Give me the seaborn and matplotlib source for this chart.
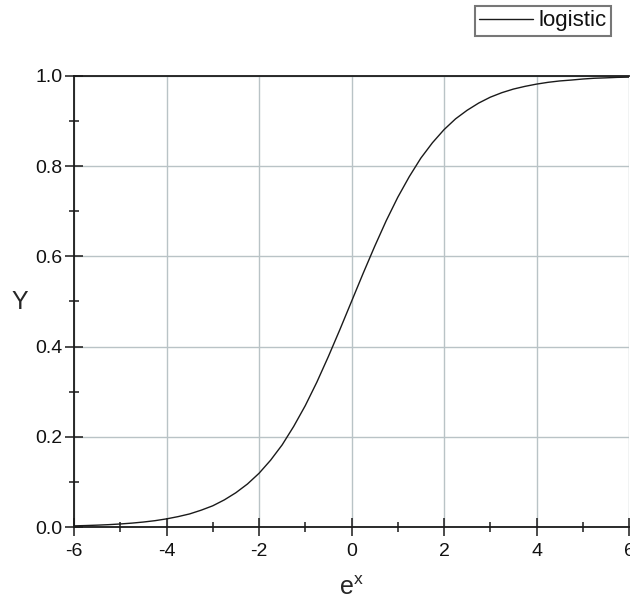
import matplotlib
matplotlib.use("Agg")
import matplotlib.pyplot as plt
import seaborn as sns
import pandas as pd
from matplotlib.ticker import MultipleLocator, FormatStrFormatter
from matplotlib.lines import Line2D

x_vals = [-6, -5.75, -5.5, -5.25, -5, -4.75, -4.5, -4.25, -4, -3.75, -3.5, -3.25,
          -3, -2.75, -2.5, -2.25, -2, -1.75, -1.5, -1.25, -1, -0.75, -0.5, -0.25,
          0, 0.25, 0.5, 0.75, 1, 1.25, 1.5, 1.75, 2, 2.25, 2.5, 2.75, 3, 3.25,
          3.5, 3.75, 4, 4.25, 4.5, 4.75, 5, 5.25, 5.5, 5.75, 6]
y_vals = [0.0025, 0.0032, 0.0041, 0.0052, 0.0067, 0.0086, 0.011, 0.014, 0.018, 0.023,
          0.029, 0.0373, 0.047, 0.0601, 0.076, 0.0953, 0.119, 0.148, 0.182, 0.223,
          0.269, 0.321, 0.378, 0.438, 0.5, 0.562, 0.622, 0.679, 0.731, 0.777, 0.818,
          0.852, 0.881, 0.905, 0.924, 0.940, 0.953, 0.963, 0.971, 0.977, 0.982, 0.986,
          0.989, 0.991, 0.9933, 0.995, 0.9959, 0.997, 0.9975]
series_name = "logistic"
x_label = "e$^{x}$"
y_label = "Y"

df = pd.DataFrame({"x": x_vals, "y": y_vals, "series": series_name})

sns.set_style("white")
plt.rcParams["font.family"] = ["Liberation Sans", "DejaVu Sans"]
plt.rcParams["mathtext.fontset"] = "custom"
plt.rcParams["mathtext.rm"] = "Liberation Sans"
plt.rcParams["mathtext.it"] = "Liberation Sans"
plt.rcParams["mathtext.default"] = "regular"
plt.rcParams["text.color"] = "#111111"

fig = plt.figure(figsize=(6.3, 6.01), dpi=100)
ax = fig.add_axes([74 / 630, 1 - 527 / 601, (629 - 74) / 630, (527 - 76) / 601])

sns.lineplot(data=df, x="x", y="y", hue="series", palette=["#1a1a1a"], linewidth=1.0,
             ax=ax, legend=False)

ax.set_xlim(-6, 6)
ax.set_ylim(0, 1.0)
ax.xaxis.set_major_locator(MultipleLocator(2))
ax.xaxis.set_minor_locator(MultipleLocator(1))
ax.yaxis.set_major_locator(MultipleLocator(0.2))
ax.yaxis.set_minor_locator(MultipleLocator(0.1))
ax.yaxis.set_major_formatter(FormatStrFormatter("%.1f"))
ax.xaxis.set_major_formatter(FormatStrFormatter("%d"))

ax.grid(True, which="major", color="#b9c3c6", linewidth=1.0)
ax.set_axisbelow(True)

for side in ["left", "bottom", "top"]:
    ax.spines[side].set_visible(True)
    ax.spines[side].set_color("#1a1a1a")
    ax.spines[side].set_linewidth(1.3)
ax.spines["right"].set_visible(False)

ax.tick_params(axis="both", which="major", direction="inout", length=13, width=1.1,
               color="#1a1a1a", labelsize=14, labelcolor="#111111", pad=2,
               top=False, right=False)
ax.tick_params(axis="x", which="major", pad=5)
ax.tick_params(axis="both", which="minor", direction="inout", length=7, width=1.1,
               color="#1a1a1a", top=False, right=False)
ax.tick_params(axis="x", which="both", bottom=True)
ax.tick_params(axis="y", which="both", left=True)

ax.set_xlabel(x_label, fontsize=18, va="center")
ax.xaxis.set_label_coords(0.5, (527 - 588) / 451)
ax.set_ylabel(y_label, fontsize=18, rotation=0, va="center", ha="center")
ax.yaxis.set_label_coords((20 - 74) / 555, (527 - 302) / 451)

handle = Line2D([], [], color="#1a1a1a", linewidth=1.0)
leg = fig.legend([handle], [series_name], loc="upper right",
                 bbox_to_anchor=(611 / 630, 1 - 6 / 601), fancybox=False,
                 frameon=True, fontsize=16, handlelength=2.4, handletextpad=0.25,
                 borderpad=0.2, borderaxespad=0)
leg.get_frame().set_edgecolor("#555555")
leg.get_frame().set_linewidth(1.5)

fig.savefig("out.png", dpi=100)
